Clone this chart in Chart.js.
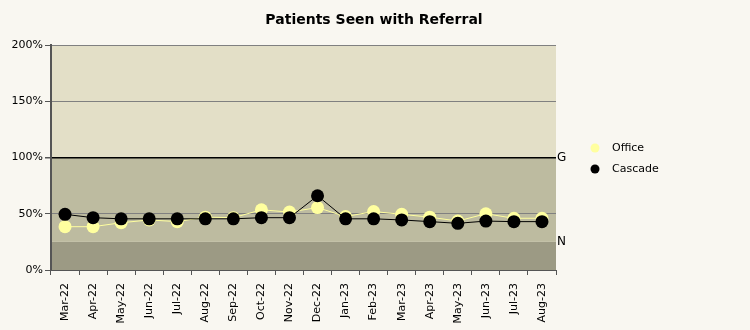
<!DOCTYPE html>
<html lang="en">
<head>
  <meta charset="UTF-8" />
  <title>Patients Seen with Referral</title>
  <style>
    body {
      margin: 0;
      padding: 0;
      background-color: #f9f7f1;
    }
    .wrap {
      width: 750px;
      height: 330px;
      position: relative;
    }
  </style>
  <script src="https://cdn.jsdelivr.net/npm/chart.js"></script>
</head>
<body>
  <div class="wrap"><canvas id="chart" width="750" height="330"></canvas></div>

  <script>
    const months = ['Mar-22', 'Apr-22', 'May-22', 'Jun-22', 'Jul-22', 'Aug-22', 'Sep-22', 'Oct-22', 'Nov-22',
      'Dec-22', 'Jan-23', 'Feb-23', 'Mar-23', 'Apr-23', 'May-23', 'Jun-23', 'Jul-23', 'Aug-23'];
    const office = [38.5, 38.5, 42, 44.5, 43, 47, 46.5, 53.5, 51.5, 55.5, 47.5, 52, 49.5, 47, 43.5, 50, 46, 46];
    const cascade = [49.5, 46.5, 45.5, 45.5, 45.5, 45.5, 45.5, 46.5, 46.5, 66, 45.5, 45.5, 44.5, 43, 41.5, 43.5, 43, 43];
    const yTicks = [0, 50, 100, 150, 200];
    // background bands: [from, to, colour]
    const bands = [[0, 25, '#9c9a84'], [25, 100, '#bdbba0'], [100, 200, '#e3dfc7']];
    const refLines = [[100, 'G'], [25, 'N']];

    const FONT = 'DejaVu Sans';

    const decorPlugin = {
      id: 'decor',
      beforeDraw(chart) {
        const ctx = chart.ctx;
        const area = chart.chartArea;
        const y = chart.scales.y;
        ctx.save();
        bands.forEach(b => {
          const top = y.getPixelForValue(b[1]);
          const bot = y.getPixelForValue(b[0]);
          ctx.fillStyle = b[2];
          ctx.fillRect(area.left, top, area.right - area.left, bot - top);
        });
        ctx.restore();
      },
      afterDraw(chart) {
        const ctx = chart.ctx;
        const area = chart.chartArea;
        const y = chart.scales.y;
        ctx.save();
        // title
        ctx.fillStyle = '#000';
        ctx.font = 'bold 14px ' + FONT;
        ctx.textAlign = 'center';
        ctx.textBaseline = 'middle';
        ctx.fillText('Patients Seen with Referral', 374, 20);
        // G / N labels
        ctx.font = '12px ' + FONT;
        ctx.textAlign = 'left';
        refLines.forEach(r => {
          ctx.fillText(r[1], area.right + 1, y.getPixelForValue(r[0]));
        });
        // legend
        const items = [['Office', '#ffff9f'], ['Cascade', '#000000']];
        ctx.font = '11px ' + FONT;
        items.forEach((it, i) => {
          const ly = 148 + i * 21;
          ctx.beginPath();
          ctx.arc(595, ly, 4.5, 0, Math.PI * 2);
          ctx.fillStyle = it[1];
          ctx.fill();
          ctx.fillStyle = '#000';
          ctx.fillText(it[0], 612, ly);
        });
        ctx.restore();
      }
    };

    new Chart(document.getElementById('chart').getContext('2d'), {
      type: 'line',
      data: {
        labels: months,
        datasets: [
          {
            label: 'Office',
            data: office,
            order: 2,
            borderColor: '#ffff9f',
            backgroundColor: '#ffff9f',
            borderWidth: 1,
            pointRadius: 6.5,
            pointBorderWidth: 0,
            tension: 0
          },
          {
            label: 'Cascade',
            data: cascade,
            order: 1,
            borderColor: '#000000',
            backgroundColor: '#000000',
            borderWidth: 1,
            pointRadius: 6.5,
            pointBorderWidth: 0,
            tension: 0
          }
        ]
      },
      options: {
        responsive: false,
        animation: false,
        layout: { padding: { top: 45, right: 194, left: 0, bottom: 0 } },
        plugins: {
          legend: { display: false },
          title: { display: false },
          tooltip: { enabled: false }
        },
        scales: {
          x: {
            offset: true,
            afterFit(scale) { scale.height = 60; },
            grid: {
              offset: true,
              drawOnChartArea: false,
              tickLength: 5,
              tickColor: '#555'
            },
            border: { color: '#555', width: 1 },
            ticks: {
              minRotation: 90,
              maxRotation: 90,
              autoSkip: false,
              color: '#000',
              padding: 8,
              font: { family: FONT, size: 11 }
            }
          },
          y: {
            min: 0,
            max: 200,
            afterFit(scale) { scale.width = 51; },
            afterBuildTicks(scale) { scale.ticks = yTicks.map(v => ({ value: v })); },
            grid: {
              color: ctx => ctx.tick && ctx.tick.value === 100 ? '#000' : (ctx.tick && ctx.tick.value === 0 ? 'rgba(0,0,0,0)' : '#808080'),
              lineWidth: ctx => ctx.tick && ctx.tick.value === 100 ? 1.5 : 1,
              tickLength: 6,
              tickColor: '#555'
            },
            border: { color: '#555', width: 2 },
            ticks: {
              color: '#000',
              padding: 2,
              font: { family: FONT, size: 11 },
              callback: v => v + '%'
            }
          }
        }
      },
      plugins: [decorPlugin]
    });
  </script>
</body>
</html>
